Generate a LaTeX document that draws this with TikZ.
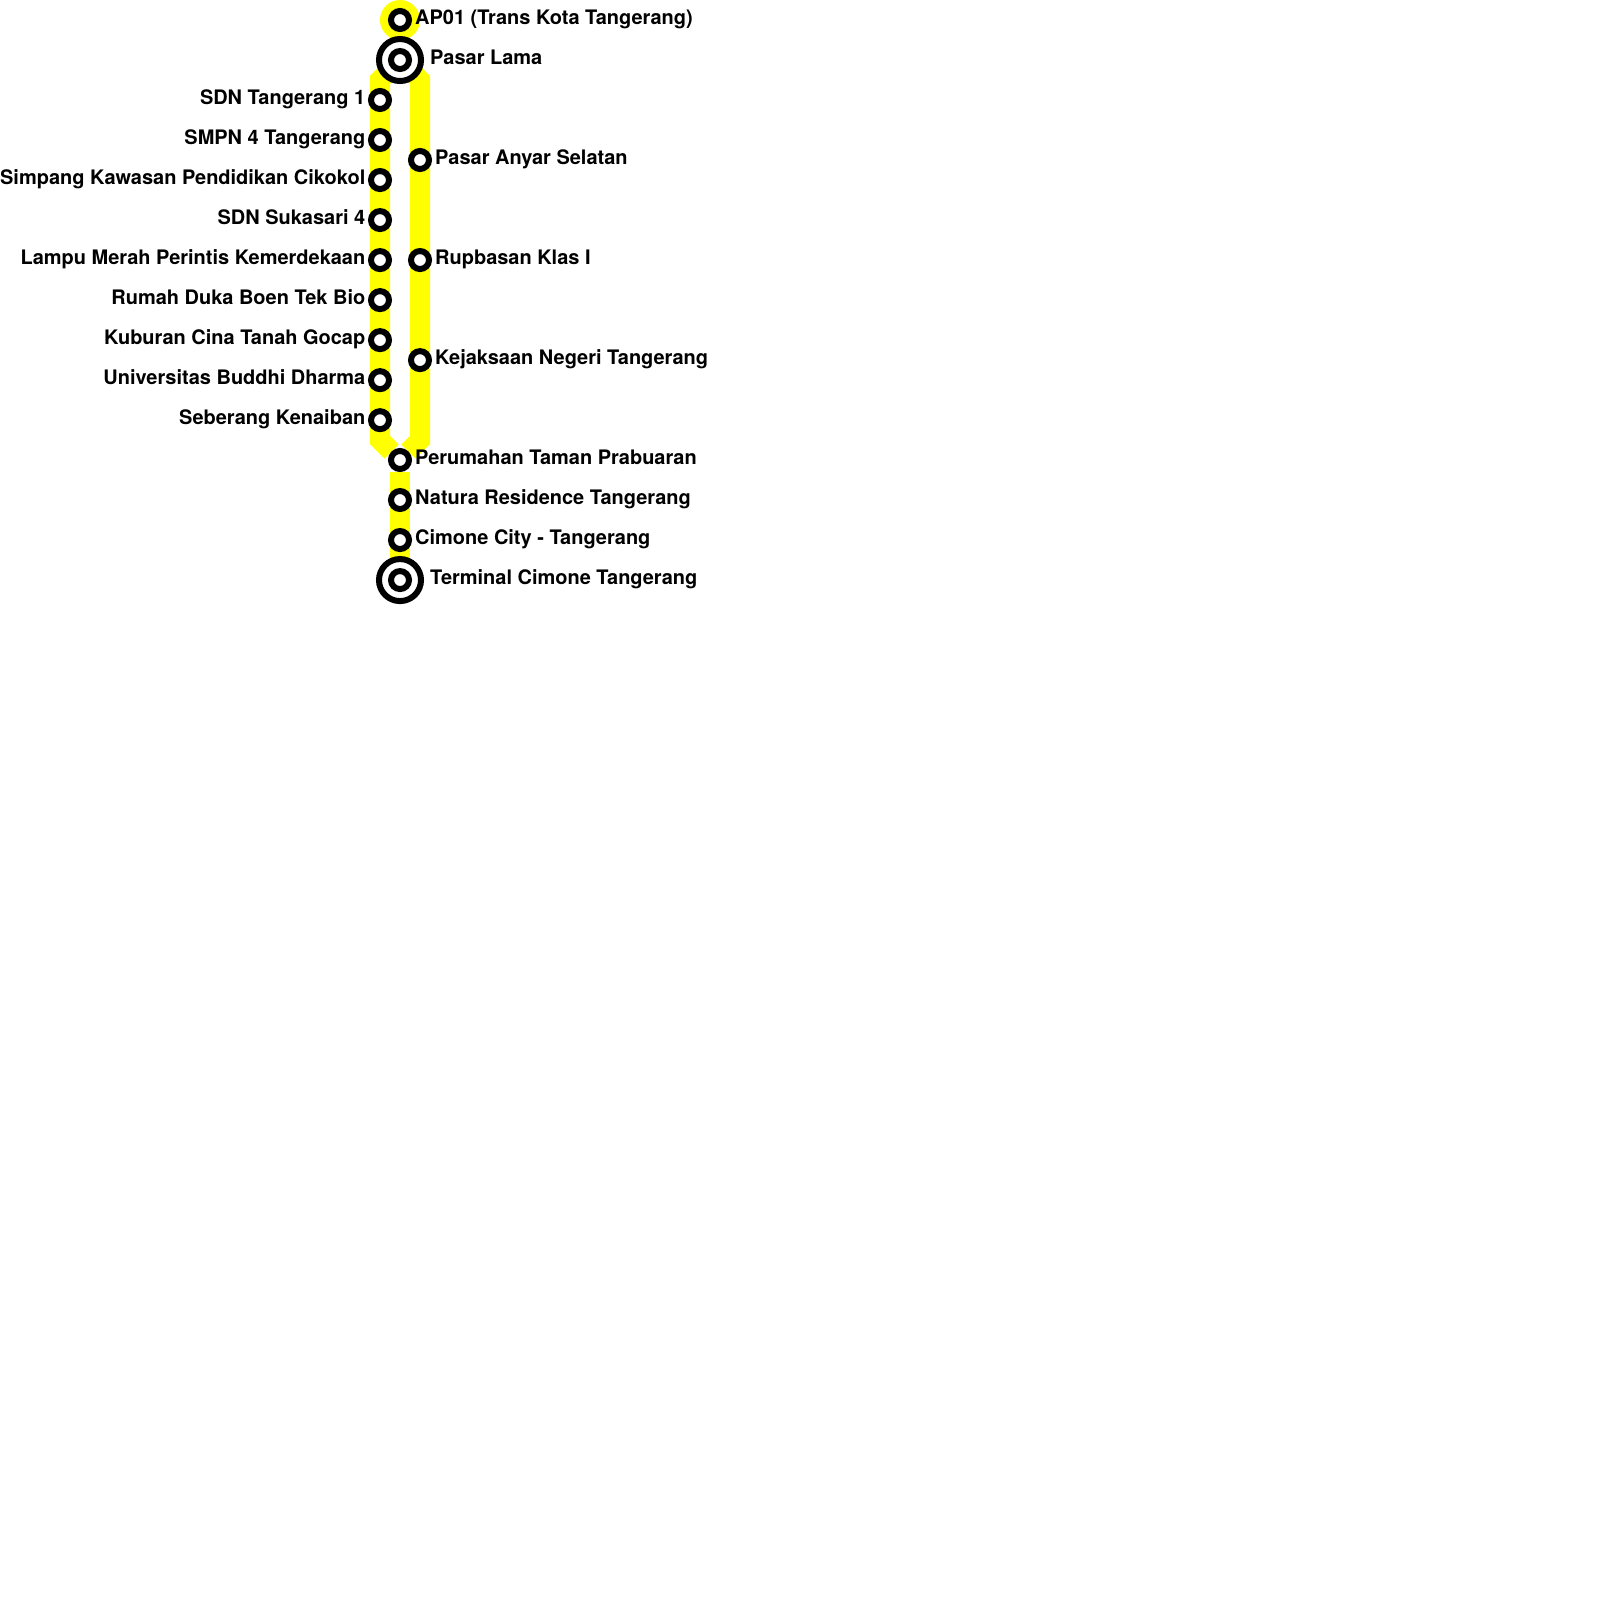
\documentclass[tikz,border=0pt]{standalone}
\usepackage{fontspec}
\setmainfont{TeX Gyre Heros}
\usetikzlibrary{backgrounds}
\definecolor{lineyellow}{RGB}{255,255,0}
\tikzset{
  stop/.style={draw=black, circle, fill=white, line width=0.06cm, minimum size=0.18cm, inner sep=0pt},
  hub/.style={draw=black, circle, fill=white, line width=0.06cm, minimum size=0.42cm, inner sep=0pt},
  halo/.style={circle, fill=lineyellow, minimum size=0.4cm, inner sep=0pt, outer sep=0pt},
  route/.style={draw=lineyellow, line width=0.2cm, line join=miter},
  lblr/.style={anchor=base west, xshift=0.145cm, yshift=-0.048cm, font=\bfseries\fontsize{5.68}{6}\selectfont, inner sep=0pt},
  lblh/.style={lblr, xshift=0.15cm},
  lbll/.style={lblr, anchor=base east, xshift=-0.285cm},
}
\begin{document}
\begin{tikzpicture}[x=0.01cm,y=-0.01cm,node distance=0.4cm]
        \useasboundingbox (0,0) rectangle (1600,1600);
        % middle stops
        \node (ap01) [stop] at (400,20) {};
        \node (pasarlamaring) [hub, below of=ap01] {};
        \node (pasarlama) [stop, below of=ap01] {};
        % left branch
        \node (sdntangerang) [stop] at (380,100) {};
        \node (smpn) [stop, below of=sdntangerang] {};
        \node (simpang) [stop, below of=smpn] {};
        \node (sukasari) [stop, below of=simpang] {};
        \node (lampu) [stop, below of=sukasari] {};
        \node (rumah) [stop, below of=lampu] {};
        \node (kuburan) [stop, below of=rumah] {};
        \node (buddhi) [stop, below of=kuburan] {};
        \node (kenaiban) [stop, below of=buddhi] {};
        % right branch
        \node (anyar) [stop] at (420,160) {};
        \node (rupbasan) [stop, below of=anyar, node distance=1cm] {};
        \node (kejaksaan) [stop, below of=rupbasan, node distance=1cm] {};
        % shared tail
        \node (prabuaran) [stop] at (400,460) {};
        \node (natura) [stop, below of=prabuaran] {};
        \node (cimone) [stop, below of=natura] {};
        \node (terminalring) [hub, below of=cimone] {};
        \node (terminal) [stop, below of=cimone] {};

        \coordinate (topleft) at (380,80);
        \coordinate (topright) at (420,80);
        \coordinate (botleft) at (380,440);
        \coordinate (botright) at (420,440);

        \begin{scope}[on background layer]
        \node (ap01halo) [halo] at (ap01) {};
        \draw[route] (ap01) -- (pasarlama);
        \draw[route] (pasarlama) -- (topleft) -- (botleft) -- (prabuaran);
        \draw[route] (pasarlama) -- (topright) -- (botright) -- (prabuaran);
        \draw[route] (prabuaran) -- (terminal);
        \end{scope}

        \node (lblap01) [lblr] at (ap01.center) {AP01 (Trans Kota Tangerang)};
        \node (lblpasarlama) [lblh] at (pasarlama.center) {Pasar Lama};
        \node (lblsdntangerang) [lbll] at (sdntangerang.center) {SDN Tangerang 1};
        \node (lblsmpn) [lbll] at (smpn.center) {SMPN 4 Tangerang};
        \node (lblsimpang) [lbll] at (simpang.center) {Simpang Kawasan Pendidikan Cikokol};
        \node (lblsukasari) [lbll] at (sukasari.center) {SDN Sukasari 4};
        \node (lbllampu) [lbll] at (lampu.center) {Lampu Merah Perintis Kemerdekaan};
        \node (lblrumah) [lbll] at (rumah.center) {Rumah Duka Boen Tek Bio};
        \node (lblkuburan) [lbll] at (kuburan.center) {Kuburan Cina Tanah Gocap};
        \node (lblbuddhi) [lbll] at (buddhi.center) {Universitas Buddhi Dharma};
        \node (lblkenaiban) [lbll] at (kenaiban.center) {Seberang Kenaiban};
        \node (lblanyar) [lblr] at (anyar.center) {Pasar Anyar Selatan};
        \node (lblrupbasan) [lblr] at (rupbasan.center) {Rupbasan Klas I};
        \node (lblkejaksaan) [lblr] at (kejaksaan.center) {Kejaksaan Negeri Tangerang};
        \node (lblprabuaran) [lblr] at (prabuaran.center) {Perumahan Taman Prabuaran};
        \node (lblnatura) [lblr] at (natura.center) {Natura Residence Tangerang};
        \node (lblcimone) [lblr] at (cimone.center) {Cimone City - Tangerang};
        \node (lblterminal) [lblh] at (terminal.center) {Terminal Cimone Tangerang};
    \end{tikzpicture}
\end{document}
